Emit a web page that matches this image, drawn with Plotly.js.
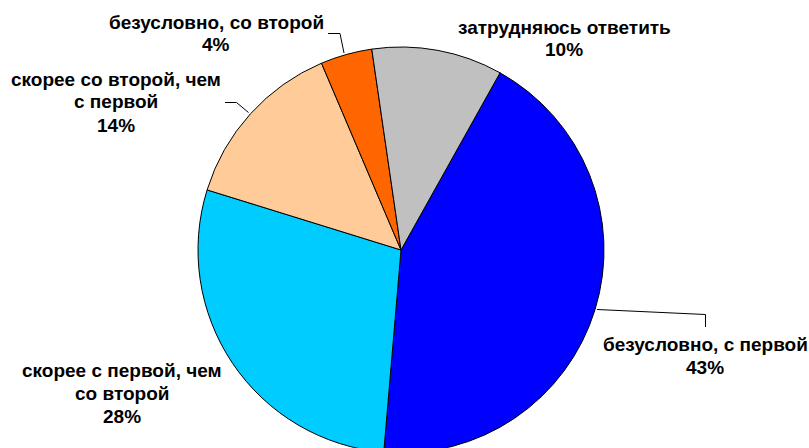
<!DOCTYPE html>
<html>
<head>
<meta charset="utf-8">
<script src="https://cdn.plot.ly/plotly-3.0.1.min.js"></script>
<style>
html,body{margin:0;padding:0;overflow:hidden;background:#fff;}
#chart{width:809px;height:500px;}
</style>
</head>
<body>
<div id="chart"></div>
<script>
const labels = ['безусловно, с первой', 'скорее с первой, чем со второй', 'скорее со второй, чем с первой', 'безусловно, со второй', 'затрудняюсь ответить'];
const labelLines = [['безусловно, с первой'], ['скорее с первой, чем', 'со второй'], ['скорее со второй, чем', 'с первой'], ['безусловно, со второй'], ['затрудняюсь ответить']];
const values = [43.2, 28.4, 13.8, 4.1, 10.4];
const colors = ['#0000FF', '#00CCFF', '#FFCC99', '#FF6600', '#C0C0C0'];

const W = 809, H = 500;
const px = x => x / W;
const py = y => 1 - y / H;

// label anchor positions: centre x, first-line centre y (pixels)
const labelPos = [[705, 344], [122, 370], [116, 79], [216, 22], [564, 27]];
const lineGap = 23;
const total = values.reduce((a, b) => a + b, 0);

const annotations = [];
labels.forEach((l, i) => {
  const lines = labelLines[i].concat([Math.round(values[i] / total * 100) + '%']);
  lines.forEach((t, j) => {
    annotations.push({
      text: '<b>' + t + '</b>',
      x: px(labelPos[i][0]), y: py(labelPos[i][1] + j * lineGap), xref: 'paper', yref: 'paper',
      xanchor: 'center', yanchor: 'middle', showarrow: false, align: 'center',
      font: {family: 'Liberation Sans, Arial, sans-serif', size: 19, color: '#000'}
    });
  });
});

const leader = (pts) => ({
  type: 'path', xref: 'paper', yref: 'paper',
  path: pts.map((p, i) => (i ? 'L' : 'M') + px(p[0]) + ',' + py(p[1])).join(' '),
  line: {color: '#000', width: 1}
});
const shapes = [
  leader([[328, 33.5], [340, 33.5], [344, 53]]),
  leader([[225, 102.5], [236.5, 102.5], [248.5, 112.5]]),
  leader([[597, 309.5], [705.5, 314.5], [705.5, 327]])
];

const trace = {
  type: 'pie', labels: labels, values: values, sort: false,
  direction: 'clockwise', rotation: 29.2,
  marker: {colors: colors, line: {color: '#000', width: 1}},
  textinfo: 'none', hoverinfo: 'none', showlegend: false,
  domain: {x: [(401 - 203) / W, (401 + 203) / W], y: [1 - (250 + 203) / H, 1 - (250 - 203) / H]}
};

Plotly.newPlot('chart', [trace], {
  width: W, height: H, margin: {l: 0, r: 0, t: 0, b: 0},
  paper_bgcolor: '#fff', showlegend: false,
  annotations: annotations, shapes: shapes
}, {staticPlot: true});
</script>
</body>
</html>
